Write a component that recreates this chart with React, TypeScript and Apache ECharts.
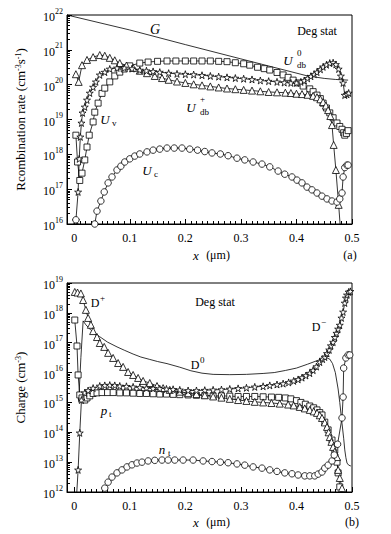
import React, { useEffect, useRef } from 'react';
import * as echarts from 'echarts';

// ---------- axis ticks ----------
const xTickValues = [0, 0.1, 0.2, 0.3, 0.4, 0.5];
const topExponents = [16, 17, 18, 19, 20, 21, 22];
const bottomExponents = [12, 13, 14, 15, 16, 17, 18, 19];

// ---------- panel (a): [x (um), log10(rate)] ----------
const topG = [[-0.013, 22.0], [0.1, 21.57], [0.2, 21.15], [0.3, 20.74], [0.42, 20.25], [0.45, 20.18], [0.47, 20.15], [0.493, 20.13]];
const topUdbPlus = [[0.003, 20.3], [0.008, 20.08], [0.014, 20.56], [0.023, 20.71], [0.034, 20.79], [0.046, 20.85], [0.055, 20.83], [0.064, 20.77], [0.073, 20.70], [0.082, 20.62], [0.094, 20.55], [0.106, 20.48], [0.118, 20.40], [0.131, 20.33], [0.145, 20.25], [0.158, 20.19], [0.17, 20.14], [0.185, 20.09], [0.2, 20.05], [0.215, 20.01], [0.23, 19.98], [0.245, 19.95], [0.26, 19.92], [0.275, 19.89], [0.29, 19.87], [0.305, 19.85], [0.32, 19.83], [0.335, 19.81], [0.35, 19.79], [0.365, 19.78], [0.38, 19.77], [0.39, 19.76], [0.4, 19.74], [0.41, 19.73], [0.42, 19.71], [0.43, 19.68], [0.437, 19.64], [0.443, 19.58], [0.448, 19.5], [0.453, 19.4], [0.457, 19.27], [0.461, 19.1], [0.464, 18.84], [0.467, 18.27], [0.471, 17.55], [0.476, 16.55], [0.479, 15.9]];
const topUv = [[0.003, 18.55], [0.006, 17.78], [0.010, 17.25], [0.014, 17.46], [0.019, 17.84], [0.023, 18.21], [0.027, 18.55], [0.034, 18.93], [0.037, 19.21], [0.043, 19.47], [0.05, 19.75], [0.055, 19.9], [0.064, 20.08], [0.073, 20.25], [0.082, 20.36], [0.09, 20.45], [0.1, 20.54], [0.118, 20.62], [0.133, 20.65], [0.15, 20.67], [0.167, 20.68], [0.183, 20.68], [0.2, 20.68], [0.215, 20.68], [0.23, 20.68], [0.245, 20.68], [0.26, 20.67], [0.275, 20.66], [0.29, 20.63], [0.305, 20.6], [0.316, 20.56], [0.33, 20.5], [0.342, 20.46], [0.352, 20.42], [0.365, 20.35], [0.376, 20.28], [0.385, 20.21], [0.394, 20.13], [0.403, 20.05], [0.412, 19.96], [0.424, 19.88], [0.43, 19.8], [0.437, 19.7], [0.443, 19.6], [0.448, 19.47], [0.454, 19.33], [0.46, 19.19], [0.466, 19.05], [0.473, 18.9], [0.478, 18.8], [0.482, 18.72], [0.485, 18.62], [0.487, 18.55], [0.49, 18.6], [0.493, 18.68]];
const topUdb0 = [[0.003, 16.1], [0.007, 16.92], [0.009, 17.87], [0.011, 18.5], [0.013, 18.9], [0.015, 19.19], [0.019, 19.36], [0.023, 19.56], [0.028, 19.76], [0.034, 19.93], [0.039, 20.08], [0.046, 20.28], [0.055, 20.36], [0.064, 20.45], [0.077, 20.48], [0.09, 20.48], [0.104, 20.46], [0.118, 20.42], [0.13, 20.4], [0.142, 20.38], [0.154, 20.36], [0.17, 20.33], [0.185, 20.31], [0.2, 20.3], [0.215, 20.29], [0.23, 20.27], [0.245, 20.25], [0.26, 20.23], [0.275, 20.21], [0.29, 20.19], [0.305, 20.17], [0.32, 20.15], [0.335, 20.12], [0.35, 20.1], [0.365, 20.08], [0.378, 20.06], [0.39, 20.05], [0.4, 20.05], [0.408, 20.08], [0.414, 20.12], [0.42, 20.18], [0.426, 20.24], [0.432, 20.3], [0.437, 20.36], [0.443, 20.44], [0.448, 20.51], [0.454, 20.57], [0.46, 20.62], [0.466, 20.63], [0.471, 20.58], [0.476, 20.45], [0.48, 20.25], [0.484, 20.05], [0.487, 19.7], [0.491, 19.72], [0.494, 19.76]];
const topUc = [[0.003, 16.12], [0.02, 15.0], [0.037, 16.0], [0.041, 16.37], [0.048, 16.66], [0.054, 16.92], [0.061, 17.18], [0.068, 17.35], [0.077, 17.55], [0.084, 17.66], [0.091, 17.78], [0.1, 17.87], [0.109, 17.95], [0.118, 18.01], [0.131, 18.07], [0.142, 18.12], [0.154, 18.15], [0.167, 18.18], [0.18, 18.18], [0.194, 18.18], [0.208, 18.15], [0.222, 18.12], [0.235, 18.08], [0.248, 18.04], [0.263, 18.01], [0.277, 17.96], [0.293, 17.89], [0.307, 17.84], [0.322, 17.78], [0.338, 17.72], [0.352, 17.64], [0.367, 17.52], [0.379, 17.43], [0.392, 17.35], [0.401, 17.26], [0.41, 17.18], [0.419, 17.06], [0.428, 16.98], [0.437, 16.89], [0.446, 16.8], [0.455, 16.72], [0.464, 16.66], [0.473, 16.63], [0.478, 16.72], [0.482, 16.89], [0.484, 17.35], [0.487, 17.62], [0.491, 17.69], [0.493, 17.69]];

// ---------- panel (b): [x (um), log10(charge)] ----------
const botDplus = [[0.001, 18.7], [0.006, 18.68], [0.012, 18.65], [0.016, 18.43], [0.021, 18.1], [0.025, 17.83], [0.03, 17.6], [0.034, 17.39], [0.041, 17.19], [0.046, 16.99], [0.054, 16.86], [0.061, 16.66], [0.07, 16.49], [0.079, 16.32], [0.088, 16.19], [0.097, 16.02], [0.106, 15.92], [0.115, 15.82], [0.124, 15.72], [0.136, 15.65], [0.149, 15.55], [0.16, 15.48], [0.172, 15.42], [0.19, 15.36], [0.205, 15.31], [0.22, 15.28], [0.235, 15.24], [0.25, 15.2], [0.265, 15.16], [0.28, 15.12], [0.295, 15.08], [0.31, 15.05], [0.325, 15.02], [0.34, 15.0], [0.355, 14.98], [0.37, 14.96], [0.385, 14.93], [0.395, 14.9], [0.406, 14.85], [0.415, 14.8], [0.424, 14.75], [0.431, 14.7], [0.437, 14.65], [0.442, 14.57], [0.446, 14.48], [0.451, 14.33], [0.455, 14.18], [0.458, 14.0], [0.46, 13.84], [0.463, 13.68], [0.466, 13.51], [0.469, 13.35], [0.473, 13.17], [0.475, 12.74], [0.478, 12.47], [0.482, 12.13], [0.486, 11.7]];
const botD0 = [[0.008, 15.0], [0.012, 16.5], [0.016, 17.73], [0.021, 17.6], [0.03, 17.42], [0.046, 17.2], [0.06, 17.02], [0.077, 16.86], [0.09, 16.75], [0.106, 16.62], [0.12, 16.52], [0.136, 16.44], [0.15, 16.37], [0.167, 16.3], [0.19, 16.18], [0.21, 16.06], [0.23, 15.98], [0.25, 15.94], [0.28, 15.93], [0.31, 15.94], [0.34, 15.97], [0.36, 16.0], [0.38, 16.07], [0.4, 16.15], [0.42, 16.28], [0.44, 16.42], [0.455, 16.49], [0.46, 16.45], [0.465, 16.3], [0.47, 16.0], [0.475, 15.45], [0.478, 15.0], [0.482, 14.3], [0.485, 13.8], [0.487, 13.41], [0.489, 13.15], [0.491, 12.97], [0.494, 12.9], [0.498, 12.87]];
const botDminus = [[0.004, 11.8], [0.007, 12.74], [0.01, 13.98], [0.013, 15.08], [0.019, 15.32], [0.025, 15.4], [0.034, 15.48], [0.046, 15.55], [0.055, 15.57], [0.064, 15.58], [0.073, 15.57], [0.082, 15.55], [0.094, 15.54], [0.106, 15.52], [0.118, 15.5], [0.13, 15.48], [0.142, 15.47], [0.154, 15.46], [0.166, 15.45], [0.178, 15.44], [0.19, 15.42], [0.205, 15.4], [0.22, 15.4], [0.235, 15.41], [0.25, 15.42], [0.265, 15.43], [0.28, 15.45], [0.295, 15.47], [0.31, 15.49], [0.325, 15.52], [0.34, 15.54], [0.352, 15.57], [0.365, 15.6], [0.376, 15.63], [0.386, 15.67], [0.395, 15.72], [0.403, 15.77], [0.41, 15.83], [0.417, 15.9], [0.424, 15.98], [0.43, 16.08], [0.436, 16.2], [0.442, 16.35], [0.447, 16.45], [0.451, 16.52], [0.455, 16.64], [0.459, 16.76], [0.462, 16.9], [0.466, 17.02], [0.469, 17.18], [0.472, 17.32], [0.475, 17.46], [0.478, 17.59], [0.481, 17.83], [0.484, 18.03], [0.487, 18.33], [0.489, 18.5], [0.491, 18.6], [0.494, 18.7], [0.497, 18.72]];
const botPt = [[0.001, 17.76], [0.005, 16.89], [0.007, 15.92], [0.01, 15.25], [0.014, 15.15], [0.019, 15.08], [0.023, 15.15], [0.028, 15.22], [0.034, 15.3], [0.041, 15.32], [0.05, 15.33], [0.06, 15.33], [0.07, 15.33], [0.082, 15.32], [0.094, 15.32], [0.106, 15.31], [0.118, 15.3], [0.13, 15.3], [0.142, 15.29], [0.154, 15.28], [0.166, 15.28], [0.178, 15.27], [0.19, 15.26], [0.205, 15.25], [0.22, 15.24], [0.235, 15.23], [0.25, 15.22], [0.265, 15.22], [0.28, 15.21], [0.295, 15.2], [0.31, 15.2], [0.325, 15.2], [0.34, 15.19], [0.355, 15.18], [0.368, 15.17], [0.38, 15.15], [0.39, 15.12], [0.4, 15.06], [0.408, 15.0], [0.416, 14.94], [0.424, 14.88], [0.431, 14.82], [0.437, 14.75], [0.442, 14.66], [0.446, 14.58], [0.451, 14.34], [0.457, 14.08], [0.464, 13.74], [0.469, 13.41], [0.473, 13.0], [0.475, 12.64], [0.478, 12.17], [0.481, 11.8]];
const botNt = [[0.055, 12.13], [0.061, 12.33], [0.068, 12.5], [0.077, 12.64], [0.086, 12.74], [0.095, 12.84], [0.104, 12.91], [0.113, 12.97], [0.122, 13.0], [0.133, 13.04], [0.145, 13.06], [0.158, 13.07], [0.169, 13.07], [0.181, 13.07], [0.196, 13.07], [0.214, 13.07], [0.232, 13.04], [0.248, 13.02], [0.263, 13.0], [0.277, 12.98], [0.293, 12.94], [0.307, 12.9], [0.322, 12.84], [0.338, 12.8], [0.352, 12.74], [0.365, 12.69], [0.379, 12.64], [0.392, 12.61], [0.403, 12.57], [0.415, 12.54], [0.424, 12.54], [0.433, 12.54], [0.439, 12.6], [0.446, 12.67], [0.451, 12.8], [0.457, 12.9], [0.464, 13.04], [0.468, 13.24], [0.474, 13.6], [0.482, 14.48], [0.484, 15.18], [0.485, 16.15], [0.489, 16.49], [0.493, 16.59], [0.496, 16.59]];

const SERIF = '"Liberation Serif", "Times New Roman", serif';
const STAR = 'path://M50,0 L61,35 L98,35 L68,57 L79,91 L50,70 L21,91 L32,57 L2,35 L39,35 Z';
const X_MIN = -0.013;
const X_MAX = 0.5;

function minorX(): number[] {
  const out: number[] = [];
  for (let i = 1; i < 50; i++) if (i % 10 !== 0) out.push(i / 100);
  return out;
}
function minorY(lo: number, hi: number): number[] {
  const out: number[] = [];
  for (let e = lo; e < hi; e++) for (let k = 2; k <= 9; k++) out.push(e + Math.log10(k));
  return out;
}

function toPts(a: number[][]) {
  return a.map(([x, e]) => [x, Math.pow(10, e)]);
}

export default function App() {
  const ref = useRef<HTMLDivElement>(null);
  useEffect(() => {
    if (!ref.current) return;
    const chart = echarts.init(ref.current, undefined, { renderer: 'svg' });
    const grids = [
      { left: 67, top: 15, width: 285, height: 209 },
      { left: 67, top: 283, width: 285, height: 209 },
    ];
    const xAxes: any[] = [];
    grids.forEach((_, gi) => {
      xAxes.push({
        type: 'value', gridIndex: gi, min: X_MIN, max: X_MAX, position: 'bottom',
        axisLine: { show: true, onZero: false, lineStyle: { color: '#000', width: 1 } },
        axisTick: { show: true, inside: true, length: 5, customValues: xTickValues, lineStyle: { color: '#000' } },
        axisLabel: { show: true, customValues: xTickValues, color: '#000', fontFamily: SERIF, fontSize: 12, margin: 8,
          formatter: (v: number) => String(Math.round(v * 10) / 10) },
        splitLine: { show: false },
      });
      xAxes.push({
        type: 'value', gridIndex: gi, min: X_MIN, max: X_MAX, position: 'bottom',
        axisLine: { show: false, onZero: false },
        axisTick: { show: true, inside: true, length: 3, customValues: minorX(), lineStyle: { color: '#000' } },
        axisLabel: { show: false },
        splitLine: { show: false },
      });
    });
    const ranges = [[topExponents[0], topExponents[topExponents.length - 1]], [bottomExponents[0], bottomExponents[bottomExponents.length - 1]]];
    const names = ['Rcombination rate (cm{s|-3}s{s|-1})', 'Charge (cm{s|-3})'];
    const yAxes: any[] = [];
    ranges.forEach(([lo, hi], gi) => {
      yAxes.push({ type: 'log', gridIndex: gi, position: 'left', min: Math.pow(10, lo), max: Math.pow(10, hi), show: false });
      yAxes.push({
        type: 'value', gridIndex: gi, min: lo, max: hi, interval: 1, position: 'left',
        axisLine: { show: true, onZero: false, lineStyle: { color: '#000', width: 1 } },
        axisTick: { show: true, inside: true, length: 5, lineStyle: { color: '#000' } },
        axisLabel: {
          color: '#000', margin: 4,
          formatter: (v: number) => `{b|10}{s|${v}}`,
          rich: {
            b: { fontFamily: SERIF, fontSize: 12, color: '#000', verticalAlign: 'bottom', lineHeight: 16 },
            s: { fontFamily: SERIF, fontSize: 8, color: '#000', verticalAlign: 'top', lineHeight: 10 },
          },
        },
        splitLine: { show: false },
        name: names[gi], nameLocation: 'middle', nameRotate: 90, nameGap: 40,
        nameTextStyle: {
          fontFamily: SERIF, fontSize: 13, color: '#000',
          rich: {
            s: { fontFamily: SERIF, fontSize: 8, color: '#000', verticalAlign: 'top', lineHeight: 10 },
          },
        },
      });
      yAxes.push({
        type: 'value', gridIndex: gi, min: lo, max: hi, position: 'left',
        axisLine: { show: false, onZero: false },
        axisTick: { show: true, inside: true, length: 3, customValues: minorY(lo, hi), lineStyle: { color: '#000' } },
        axisLabel: { show: false },
        splitLine: { show: false },
      });
    });

    const mk = (data: number[][], symbol: string, size: number, xi: number, yi: number, showSymbol = true) => ({
      type: 'line', xAxisIndex: xi, yAxisIndex: yi, data: toPts(data),
      symbol: showSymbol ? symbol : 'none', symbolSize: size, showAllSymbol: true, clip: true,
      lineStyle: { color: '#000', width: 0.8 },
      itemStyle: { color: '#fff', borderColor: '#000', borderWidth: 0.8 },
      z: 3,
    });

    const series = [
      mk(topG, 'none', 0, 0, 0, false),
      mk(topUv, 'rect', 6, 0, 0),
      mk(topUdbPlus, 'triangle', 7, 0, 0),
      mk(topUdb0, STAR, 7, 0, 0),
      mk(topUc, 'circle', 6.5, 0, 0),
      mk(botD0, 'none', 0, 2, 3, false),
      mk(botPt, 'rect', 6, 2, 3),
      mk(botDplus, 'triangle', 7, 2, 3),
      mk(botDminus, STAR, 7, 2, 3),
      mk(botNt, 'circle', 6.5, 2, 3),
    ];

    const T = (x: number, y: number, text: string, size = 12, italic = false, align = 'center') => ({
      type: 'text', x, y, z: 10,
      style: { text, fontFamily: SERIF, fontSize: size, fontStyle: italic ? 'italic' : 'normal', fill: '#000', align, verticalAlign: 'middle' },
    });

    const graphic = [
      T(155, 29, 'G', 14, true),
      T(317, 31, 'Deg stat', 12),
      T(288, 60, 'U', 13, true), T(297, 65, 'db', 9, false, 'left'), T(297, 53, '0', 9, false, 'left'),
      T(191, 107, 'U', 13, true), T(200, 112, 'db', 9, false, 'left'), T(200, 99, '+', 9, false, 'left'),
      T(105, 119, 'U', 13, true), T(112, 123, 'v', 9, false, 'left'),
      T(147, 170, 'U', 13, true), T(154, 174, 'c', 9, false, 'left'),
      T(196, 255, 'x', 13, true), T(218, 255, '(\u03bcm)', 12),
      T(350, 255, '(a)', 12),
      T(215, 302, 'Deg stat', 12),
      T(95, 303, 'D', 12, false), T(100, 298, '+', 9, false, 'left'),
      T(316, 327, 'D', 12, false), T(321, 322, '\u2212', 9, false, 'left'),
      T(195, 365, 'D', 12, false), T(200, 360, '0', 9, false, 'left'),
      T(104, 410, 'p', 13, true), T(109, 414, 't', 9, false, 'left'),
      T(162, 449, 'n', 13, true), T(168, 453, 't', 9, false, 'left'),
      T(196, 522, 'x', 13, true), T(218, 522, '(\u03bcm)', 12),
      T(352, 522, '(b)', 12),
    ];

    chart.setOption({
      animation: false,
      backgroundColor: '#fff',
      grid: grids.map(g => ({ ...g, show: true, borderColor: '#000', borderWidth: 1, backgroundColor: 'transparent' })),
      xAxis: xAxes,
      yAxis: yAxes,
      series,
      graphic,
    });
    return () => chart.dispose();
  }, []);
  return <div ref={ref} style={{ position: 'fixed', left: 0, top: 0, width: 391, height: 534, background: '#fff' }} />;
}
